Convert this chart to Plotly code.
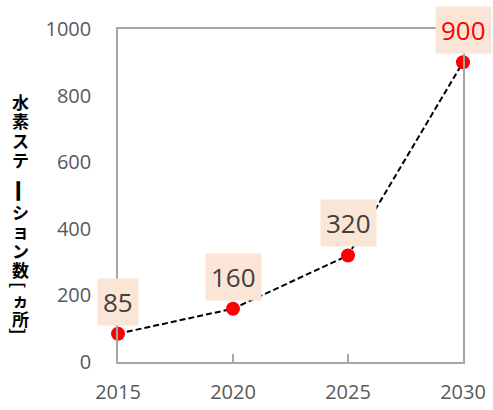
import plotly.graph_objects as go

years = [2015, 2020, 2025, 2030]
stations = [85, 160, 320, 900]
label_colors = ["#404040", "#404040", "#404040", "#FF0000"]
y_ticks = [0, 200, 400, 600, 800, 1000]
x_ticks = [2015, 2020, 2025, 2030]
y_title = "水素ステーション数[ヵ所]"

W, H = 493, 410
ML, MR, MT, MB = 118, 30, 29, 48
PW, PH = W - ML - MR, H - MT - MB

fig = go.Figure()
fig.add_trace(go.Scatter(
    x=years, y=stations, mode="lines+markers",
    line=dict(color="#000000", width=2, dash="6px,3px"),
    marker=dict(color="#FF0000", size=14),
    cliponaxis=False, showlegend=False,
))

annotations = []
for x, y, c in zip(years, stations, label_colors):
    annotations.append(dict(
        x=x, y=y, xref="x", yref="y", text=str(y), showarrow=False,
        yshift=32, bgcolor="#FBE5D6", borderpad=5,
        font=dict(family="Open Sans", size=26, color=c),
    ))

# vertical (tategaki) axis title: runs of upright glyphs as multi-line text,
# glyphs that turn in vertical writing (ー, brackets) rotated by 90 degrees
rotated = set("ー[]")
glyph_y = [102, 121, 140.5, 160, 191, 212, 231, 250.5, 270, 285, 299, 318, 331]
glyph_px = 17
glyph_size_override = {"ー": 24, "[": 17, "]": 17}
title_x = (20 - ML) / PW
runs, cur = [], []
for ch, gy in zip(y_title, glyph_y):
    if ch in rotated:
        if cur:
            runs.append(cur)
            cur = []
        runs.append([(ch, gy)])
    else:
        cur.append((ch, gy))
if cur:
    runs.append(cur)

for run in runs:
    chars = [c for c, _ in run]
    ys = [g for _, g in run]
    yc = sum(ys) / len(ys)
    px = glyph_size_override.get(chars[0], glyph_px)
    if len(run) > 1:
        step = (ys[-1] - ys[0]) / (len(ys) - 1)
        base = step / 1.3
    else:
        base = px
    text = "<br>".join('<span style="font-size:%dpx"><b>%s</b></span>' % (px, c) for c in chars)
    annotations.append(dict(
        x=title_x, y=(H - MB - yc) / PH, xref="paper", yref="paper",
        text=text, showarrow=False,
        textangle=90 if chars[0] in rotated else 0,
        font=dict(family="Noto Sans CJK JP", size=base, color="#000000"),
        xanchor="center", yanchor="middle", borderpad=0,
    ))

axis_line = "#A6A6A6"
fig.update_layout(
    width=W, height=H,
    margin=dict(l=ML, r=MR, t=MT, b=MB, autoexpand=False),
    paper_bgcolor="white", plot_bgcolor="white",
    annotations=annotations,
    xaxis=dict(
        range=[2015, 2030], tickvals=x_ticks, ticktext=[str(v) for v in x_ticks],
        showline=True, mirror=True, linecolor=axis_line, linewidth=1.5,
        ticks="inside", ticklen=8, tickcolor=axis_line, tickwidth=1.5,
        showgrid=False, zeroline=False, ticklabelstandoff=11, automargin=False,
        tickfont=dict(family="Open Sans", size=20, color="#595959"),
    ),
    yaxis=dict(
        range=[0, 1000], tickvals=y_ticks,
        showline=True, mirror=True, linecolor=axis_line, linewidth=1.5,
        ticks="", showgrid=False, zeroline=False, ticklabelstandoff=21, automargin=False,
        tickfont=dict(family="Open Sans", size=20, color="#595959"),
    ),
)

fig.write_html("out.html")
